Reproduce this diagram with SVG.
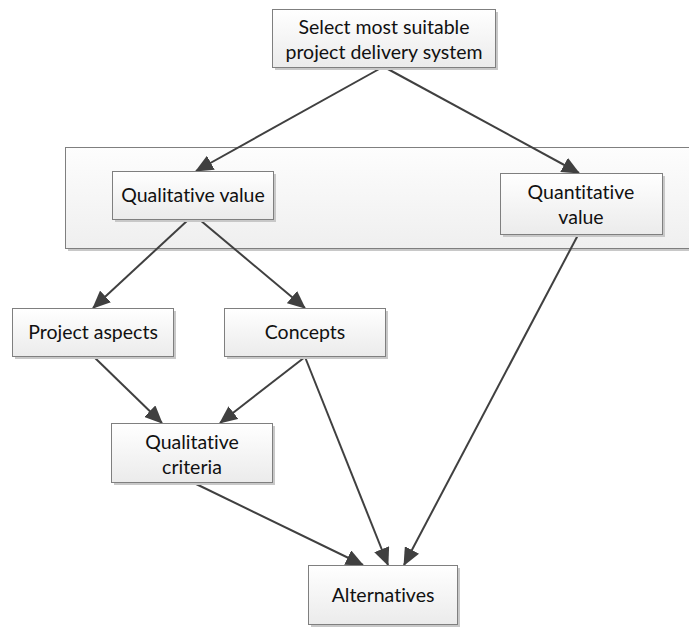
<svg xmlns="http://www.w3.org/2000/svg" width="689" height="628" viewBox="0 0 689 628">
  <style>
    .box { fill: url(#nodeFill); stroke: #7f7f7f; stroke-width: 1; }
    .shadow { fill: #c8c8c8; }
    .label { font-family: Lato, "Open Sans", "Liberation Sans", sans-serif; font-size: 19.5px; fill: #111; text-anchor: middle; font-variant-ligatures: none; }
    .edge { stroke: #404040; stroke-width: 2; fill: none; marker-end: url(#arrow); }
  </style>
  <defs>
    <linearGradient id="nodeFill" x1="0" y1="0" x2="0" y2="1">
      <stop offset="0" stop-color="#ffffff"/>
      <stop offset="1" stop-color="#ebebeb"/>
    </linearGradient>
    <linearGradient id="groupFill" x1="0" y1="0" x2="0" y2="1">
      <stop offset="0" stop-color="#fdfdfd"/>
      <stop offset="1" stop-color="#efefef"/>
    </linearGradient>
    <marker id="arrow" viewBox="0 0 18 16" refX="17" refY="8" markerWidth="18" markerHeight="16" markerUnits="userSpaceOnUse" orient="auto">
      <path d="M0,0 L18,8 L0,16 Z" fill="#404040"/>
    </marker>
  </defs>

  <!-- value grouping frame -->
  <g id="value-group">
    <rect x="68" y="150" width="630" height="101" class="shadow"/>
    <rect x="65.5" y="147.5" width="630" height="101" fill="url(#groupFill)" stroke="#7f7f7f"/>
  </g>

  <g id="connectors">
    <line x1="381" y1="68" x2="196" y2="171" class="edge"/>
    <line x1="386" y1="68" x2="579" y2="173" class="edge"/>
    <line x1="188" y1="220" x2="93" y2="308" class="edge"/>
    <line x1="200" y1="220" x2="305" y2="308" class="edge"/>
    <line x1="93" y1="356" x2="162" y2="423" class="edge"/>
    <line x1="305" y1="357" x2="220" y2="423" class="edge"/>
    <line x1="305" y1="357" x2="388" y2="565" class="edge"/>
    <line x1="192" y1="482" x2="363" y2="565" class="edge"/>
    <line x1="578" y1="235" x2="404" y2="565" class="edge"/>
  </g>

  <g id="select-system">
    <rect x="275" y="12" width="223" height="58" class="shadow"/>
    <rect x="272.5" y="9.5" width="223" height="58" class="box"/>
    <text x="384" y="34" class="label">Select most suitable</text>
    <text x="384" y="59" class="label">project delivery system</text>
  </g>

  <g id="qualitative-value">
    <rect x="115" y="174" width="161" height="48" class="shadow"/>
    <rect x="112.5" y="171.5" width="161" height="48" class="box"/>
    <text x="193" y="202" class="label">Qualitative value</text>
  </g>

  <g id="quantitative-value">
    <rect x="503" y="176" width="162" height="61" class="shadow"/>
    <rect x="500.5" y="173.5" width="162" height="61" class="box"/>
    <text x="581" y="199" class="label">Quantitative</text>
    <text x="581" y="224" class="label">value</text>
  </g>

  <g id="project-aspects">
    <rect x="15" y="311" width="161" height="48" class="shadow"/>
    <rect x="12.5" y="308.5" width="161" height="48" class="box"/>
    <text x="93" y="339" class="label">Project aspects</text>
  </g>

  <g id="concepts">
    <rect x="227" y="311" width="161" height="48" class="shadow"/>
    <rect x="224.5" y="308.5" width="161" height="48" class="box"/>
    <text x="305" y="339" class="label">Concepts</text>
  </g>

  <g id="qualitative-criteria">
    <rect x="114" y="426" width="161" height="59" class="shadow"/>
    <rect x="111.5" y="423.5" width="161" height="59" class="box"/>
    <text x="192" y="449" class="label">Qualitative</text>
    <text x="192" y="474" class="label">criteria</text>
  </g>

  <g id="alternatives">
    <rect x="311" y="568" width="149" height="59" class="shadow"/>
    <rect x="308.5" y="565.5" width="149" height="59" class="box"/>
    <text x="383" y="602" class="label">Alternatives</text>
  </g>
</svg>
